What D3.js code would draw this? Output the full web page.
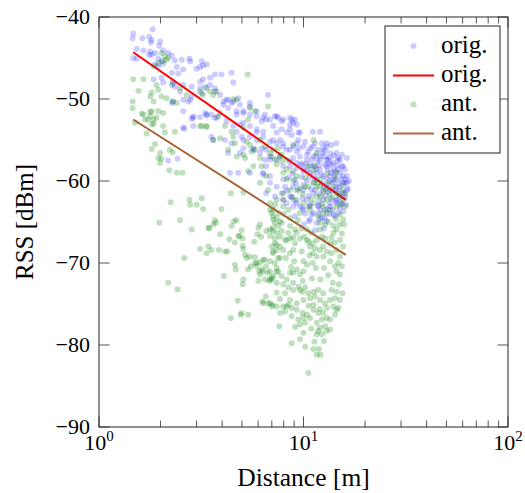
<!DOCTYPE html>
<html>
<head>
<meta charset="utf-8">
<script src="https://cdn.jsdelivr.net/npm/d3@7"></script>
<style>
  body { margin: 0; background: #fff; }
  svg text { font-family: "Liberation Serif", "DejaVu Serif", serif; fill: #000; }
</style>
</head>
<body>
<svg id="chart" width="525" height="493"></svg>
<script>
// distance [m], RSS [dBm]
const origPoints = [
  [1.83,-41.5],[1.47,-42.0],[1.46,-42.6],[1.63,-42.6],[1.76,-42.4],[1.81,-42.8],[1.79,-43.1],[1.99,-43.0],[1.97,-43.5],
  [1.53,-43.9],[1.65,-44.1],[1.78,-44.2],[1.81,-44.6],[1.88,-44.4],[1.76,-44.6],[2.06,-44.1],[2.18,-44.4],[2.27,-44.7],
  [1.47,-45.0],[1.53,-45.1],[1.95,-45.1],[2.02,-45.4],[2.06,-45.7],[1.88,-45.8],[1.95,-46.0],[2.35,-45.3],[2.54,-45.2],
  [2.77,-45.1],[2.79,-45.4],[2.40,-46.1],[2.58,-46.4],[2.27,-46.8],[2.44,-46.9],[3.00,-46.3],[3.12,-46.1],[3.36,-45.8],
  [1.85,-47.6],[2.02,-47.4],[2.06,-48.0],[2.30,-48.1],[2.35,-48.5],[3.12,-47.9],[3.23,-47.6],[3.49,-47.4],[2.49,-49.1],
  [2.58,-50.1],[2.73,-50.3],[2.84,-49.7],[2.89,-52.1],[2.84,-52.4],[3.12,-52.2],[3.36,-52.0],[2.58,-53.5],[2.89,-53.3],
  [2.18,-57.5],[2.42,-57.3],[2.61,-53.6],
  [3.69,-47.0],[3.97,-47.0],[4.45,-46.8],[4.54,-48.0],[3.49,-48.3],[3.69,-48.7],[3.18,-49.3],[3.23,-45.9],[6.71,-49.5],
  [6.57,-52.5],[4.06,-50.3],[4.28,-50.1],[4.45,-50.5],[4.89,-50.7],[5.47,-50.5],[5.08,-51.5],[4.71,-51.9],[3.30,-51.7],
  [3.55,-51.9],[3.91,-51.7],[3.76,-52.3],[5.90,-52.1],[6.24,-52.7],[7.52,-52.3],[7.96,-52.5],[8.59,-52.3],[8.90,-52.9],
  [7.82,-53.7],[8.28,-54.1],[7.39,-54.1],[7.10,-55.0],[6.86,-55.2],[7.67,-55.0],[6.35,-54.0],[5.90,-53.7],[5.47,-53.3],
  [4.89,-53.1],[4.54,-53.3],[4.20,-52.7],[4.71,-54.0],[4.98,-54.6],[5.47,-54.6],[5.90,-55.0],[5.69,-56.0],[6.24,-56.0],
  [6.57,-56.2],[6.48,-57.4],[6.86,-57.4],[7.67,-57.0],[8.28,-56.2],[8.90,-55.8],[8.90,-57.2],[9.26,-55.4],[9.44,-54.1],
  [3.62,-55.0],[3.55,-54.6],[4.13,-55.0],[4.45,-55.4],[5.08,-56.0],[6.57,-58.2],[7.96,-58.2],
  [3.18,-45.4],[7.39,-52.1],[7.82,-52.7],[8.75,-52.5],[9.26,-53.1],[6.35,-52.3],[6.86,-52.5],[5.90,-51.5],[5.47,-51.9],
  [5.08,-51.7],[4.28,-51.1],[4.71,-51.5],[3.69,-49.1],[3.91,-49.5],[4.20,-50.1],[4.54,-50.3],[4.80,-49.9],[3.30,-48.5],
  [3.12,-48.7],[2.84,-48.5],[2.58,-48.3],[2.30,-47.9],[2.79,-50.1],[2.58,-51.5],[2.89,-52.3],[3.36,-51.9],[3.69,-52.3],
  [4.06,-50.7],[2.30,-50.3],[2.27,-50.5],
  [4.37,-59.0],[4.80,-59.0],[5.47,-59.0],[4.28,-56.6],[4.89,-56.6],[6.35,-59.2],[6.86,-60.2],[7.39,-60.7],[7.82,-61.5],
  [8.59,-61.9],[9.26,-62.7],[9.89,-63.3],[6.57,-61.5],[7.25,-61.9],[7.96,-62.3],
  [5.47,-50.9],[6.48,-51.9],[7.25,-52.1],[7.10,-53.3],[8.59,-53.7],[9.61,-54.1],[11.1,-54.0],[12.04,-54.0],[11.38,-55.4],
  [12.3,-55.4],[12.98,-55.8],[13.48,-56.6],[14.5,-56.6],[15.08,-57.4],[15.6,-58.2],[15.08,-59.0],[14.0,-58.6],[12.98,-58.2],
  [12.04,-57.4],[11.2,-57.0],[10.4,-56.8],[9.26,-56.4],[8.59,-56.2],[7.96,-55.8],[7.39,-55.4],[6.35,-54.6],[5.90,-54.1],
  [5.08,-52.9],[5.08,-55.0],[5.69,-56.2],[6.13,-56.6],[6.86,-57.0],[7.39,-57.4],[8.59,-57.6],[9.26,-57.8],[10.0,-58.6],
  [10.76,-59.0],[11.6,-59.0],[12.5,-59.4],[13.48,-60.0],[14.5,-60.7],[15.6,-61.5],[12.5,-61.1],[11.2,-60.2],[10.0,-60.5],
  [8.90,-60.7],[7.96,-59.8],[6.86,-59.4],[6.35,-59.0],[10.4,-62.3],[10.76,-63.1],[11.2,-63.9],[10.0,-63.5],[15.6,-59.4],
  [16.3,-60.2],[15.08,-61.9],[12.74,-57.0],[13.2,-57.4],[13.7,-58.0],[14.26,-58.8],
  [9.09,-52.5],[8.59,-53.1],[8.75,-54.4],[12.98,-55.4],[12.5,-56.0],[14.8,-57.2],[14.0,-57.8],[12.98,-57.4],[10.4,-57.4],
  [9.61,-57.0],[7.96,-55.4],[11.2,-58.2],[12.04,-58.6],[16.3,-59.4],[15.6,-60.2],[14.5,-59.8],[13.48,-59.4],[11.6,-59.8],
  [10.76,-59.4],[10.0,-58.8],[9.26,-58.4],[8.59,-58.2],[8.12,-60.7],[8.75,-61.9],[10.0,-61.1],[11.2,-61.5],[12.5,-62.3],
  [13.48,-62.7],[14.5,-62.3],[16.3,-61.1],[16.7,-60.0],[15.96,-58.6],[15.4,-56.8],[16.3,-57.2],[14.5,-55.4],[13.7,-55.6],
  [11.8,-56.2],[11.1,-55.8],[10.17,-55.2],[9.44,-55.0],[10.56,-56.4],[9.89,-58.0],[9.09,-59.8],[8.43,-59.6],[12.04,-63.5],
  [9.61,-63.1],[8.28,-62.7],[14.26,-64.3],[12.74,-64.5],
  [11.5,-58.5],[12.2,-59.2],[13.0,-60.5],[13.8,-61.2],[12.8,-61.8],[11.9,-62.5],[10.9,-61.0],[11.7,-57.6],[12.4,-56.6],
  [13.3,-57.9],[14.2,-59.3],[14.9,-60.3],[15.5,-62.8],[13.1,-63.4],[12.0,-64.6],[10.6,-64.9],[11.4,-66.0],[12.6,-65.8],
  [9.8,-59.5],[10.3,-57.9],[11.0,-57.4],[12.7,-58.0],[13.6,-59.0],[14.6,-58.1],[15.3,-59.7],[15.8,-61.4],[14.4,-62.4],
  [13.4,-64.0],[11.8,-63.0],[10.4,-60.0],
  [8.90,-63.1],[10.76,-62.9],[11.8,-63.1],[12.74,-63.5],[13.48,-63.1],[14.5,-62.7],[9.09,-64.3],[10.0,-65.3],[10.76,-64.7],
  [11.6,-65.1],[12.3,-64.5],[14.0,-64.1],[15.08,-63.3],
  [9.5,-56.0],[10.0,-55.8],[10.8,-56.0],[11.5,-56.9],[12.1,-57.0],[12.7,-56.3],[13.5,-57.2],[14.1,-56.9],[14.8,-58.6],
  [15.4,-58.2],[16.0,-59.8],[16.5,-60.9],[16.0,-62.0],[15.2,-62.6],[14.7,-61.4],[13.9,-60.2],[13.2,-61.3],[12.3,-60.3],
  [11.4,-61.1],[10.6,-61.8],[9.9,-62.1],[9.4,-61.0],[9.0,-62.4],[10.2,-64.0],[11.0,-64.1],[11.9,-64.0],[12.9,-64.9],
  [13.9,-63.5],[14.8,-63.9],[15.7,-63.7],[16.2,-62.9],[12.0,-61.6],[12.6,-60.7],[13.3,-60.9],[14.0,-59.9],[11.3,-59.6],
  [10.5,-58.6],[9.7,-57.9],[8.8,-59.1],[8.3,-61.2],[9.2,-60.3],[13.6,-62.2],[14.3,-61.0],[15.0,-60.8],[15.9,-60.2],
  [12.9,-59.7],[11.9,-58.1],[10.9,-58.1],[13.1,-58.6],[14.7,-57.5]
];

const antPoints = [
  [2.02,-44.4],[2.10,-44.8],[2.14,-45.2],[2.18,-45.0],[1.85,-46.0],[1.95,-45.6],[2.06,-45.4],[1.47,-47.6],[1.65,-47.6],
  [1.56,-49.0],[1.91,-48.3],[1.95,-48.9],[1.81,-49.2],[1.78,-49.7],[2.02,-49.7],[2.14,-49.9],[2.30,-50.3],[2.40,-50.5],
  [1.46,-50.3],[1.46,-51.1],[1.85,-50.3],[1.65,-51.9],[1.81,-51.5],[1.78,-52.1],[1.85,-52.5],[1.74,-52.5],[1.95,-51.5],
  [2.06,-51.7],[1.91,-52.3],[2.27,-48.3],[2.49,-48.7],[3.36,-48.7],[3.49,-49.1],[3.23,-49.5],[2.68,-49.5],[3.12,-49.1],
  [1.62,-51.8],[1.78,-51.6],[1.68,-52.5],[1.85,-53.0],[1.81,-53.1],[2.06,-53.3],[2.10,-54.1],[2.35,-54.0],[1.71,-54.2],
  [1.50,-52.9],[1.88,-55.5],[1.81,-56.1],[1.99,-56.6],[1.95,-57.2],[2.02,-57.3],[1.99,-57.8],[2.22,-56.2],[2.29,-56.5],
  [2.21,-58.7],[2.40,-59.0],[2.56,-59.0],[3.12,-53.3],[3.34,-53.4],[2.24,-62.6],[2.77,-62.3],[2.79,-62.9],[3.00,-62.9],
  [3.18,-62.1],[3.23,-63.4],[1.97,-65.1],[2.49,-64.8],[2.84,-65.9],[3.43,-65.7],[3.12,-68.3],[3.36,-68.8],[3.43,-68.0],
  [2.61,-69.4],
  [2.18,-72.4],[2.42,-73.2],[3.46,-65.8],[3.69,-64.8],[3.73,-65.1],[3.91,-66.5],[3.97,-63.4],[3.55,-68.4],[3.86,-68.4],
  [4.13,-68.6],[4.24,-68.6],[4.08,-71.6],[5.08,-61.4],[4.41,-61.5],[4.34,-67.1],[4.62,-67.5],[4.80,-66.7],[5.04,-67.0],
  [4.57,-64.9],[4.70,-64.8],[4.98,-66.0],[5.04,-67.9],[4.62,-70.2],[4.66,-70.8],[5.08,-68.3],[5.18,-69.0],[5.27,-69.4],
  [5.47,-69.2],[5.79,-69.3],[5.04,-72.6],[4.77,-74.6],[4.41,-76.7],[4.93,-76.3],[5.36,-76.3],
  [3.62,-65.3],[4.45,-65.5],[4.87,-66.7],[5.53,-70.4],[5.36,-70.8],[6.13,-65.3],[6.02,-65.7],[5.95,-66.5],[5.74,-67.4],
  [6.20,-66.8],[6.57,-66.1],[6.86,-65.9],[6.13,-69.9],[6.48,-69.6],[6.86,-69.8],[7.25,-70.0],[7.52,-69.4],[6.24,-70.8],
  [6.07,-71.0],[6.35,-71.0],[6.80,-72.2],[6.99,-72.0],[6.67,-71.2],[7.39,-71.1],[6.54,-74.1],[6.30,-74.7],[6.71,-74.9],
  [7.06,-75.1],[7.67,-74.4],[7.61,-77.7],[7.0,-68.0],[7.25,-67.6],[7.39,-68.4],[7.67,-68.0],[7.10,-68.8],[7.10,-64.7],
  [7.39,-64.5],[7.25,-65.1],[7.06,-66.1],[6.86,-66.7],[7.25,-67.0],[6.86,-63.5],[7.25,-62.9],[7.54,-63.9],
  [6.99,-63.9],[7.67,-64.9],[7.52,-65.5],[7.10,-65.7],[7.82,-66.1],[8.43,-66.3],[8.12,-67.2],[8.59,-67.0],[9.09,-67.6],
  [9.61,-67.0],[8.90,-68.4],[8.59,-68.8],[7.96,-68.4],[7.39,-67.8],[7.10,-68.6],[7.67,-69.4],[10.56,-67.4],[10.76,-68.0],
  [11.38,-68.2],[12.04,-68.4],[12.98,-68.6],[12.5,-69.2],[11.6,-69.2],[11.1,-68.8],[13.48,-69.8],[14.26,-70.4],[14.8,-70.0],
  [15.4,-70.4],[14.5,-71.0],[15.08,-71.4],[10.0,-69.8],[10.4,-70.2],[11.1,-70.0],[9.26,-70.8],[8.90,-71.2],[9.61,-71.4],
  [10.0,-71.0],[7.52,-71.0],[7.10,-71.6],[7.82,-71.6],[8.28,-72.0],[7.96,-72.6],[8.43,-73.0],[8.90,-72.4],[9.44,-72.9],
  [7.39,-73.6],[8.12,-73.7],[9.89,-73.5],[10.17,-73.0],[10.56,-73.7],[11.2,-73.5],[11.38,-74.1],[10.76,-74.3],[10.0,-74.5],
  [11.8,-73.3],[12.5,-73.7],[12.04,-74.5],[12.74,-74.9],[11.2,-75.1],[13.7,-73.3],[14.5,-73.5],[14.26,-74.3],[13.48,-74.5],
  [15.08,-74.5],[14.8,-75.5],[14.0,-75.3],[7.96,-75.3],[8.43,-75.1],[8.75,-75.5],[8.12,-75.9],[7.39,-75.3],[6.99,-75.3],
  [9.26,-75.7],[9.89,-76.1],[10.4,-76.3],[10.0,-76.7],[10.76,-76.7],[9.61,-77.5],[10.17,-77.3],[11.2,-75.7],[11.8,-76.1],
  [12.5,-76.1],[12.98,-76.7],[12.3,-76.9],[11.6,-77.3],[12.04,-77.9],[12.74,-77.7],[13.48,-76.9],[14.26,-76.3],[14.5,-75.7],
  [11.8,-78.3],[12.3,-78.7],[12.98,-78.3],[13.48,-78.1],[11.6,-78.7],[8.75,-79.8],[10.0,-78.5],[9.61,-79.3],
  [11.2,-80.5],[11.9,-80.5],[11.6,-81.2],[12.1,-81.2],[10.56,-83.4],
  [7.10,-63.5],[7.82,-65.1],[7.39,-66.3],[7.67,-66.8],[8.28,-67.2],[9.09,-65.9],[9.26,-66.3],[10.4,-67.2],[11.1,-67.6],
  [12.04,-65.9],[12.3,-66.8],[12.74,-65.3],[12.5,-68.0],[13.48,-67.6],[14.0,-66.3],[14.5,-65.9],[15.08,-67.2],[14.5,-68.4],
  [15.08,-69.2],[15.6,-68.0],[5.79,-70.0],[5.90,-70.4],[6.02,-72.2],[5.08,-72.0],[4.98,-76.1],[6.13,-71.4],[6.48,-72.0],
  [6.86,-71.0],[6.99,-71.8],
  [5.33,-47.0],[4.71,-50.1],[4.54,-50.0],[5.47,-51.1],[5.79,-51.5],[6.71,-50.9],[3.76,-49.1],[3.62,-49.5],[3.83,-52.1],
  [4.13,-53.3],[4.54,-54.6],[4.45,-54.0],[3.91,-54.8],[3.62,-55.0],[4.62,-55.4],[5.28,-55.2],[5.57,-56.4],[5.79,-56.2],
  [6.13,-57.2],[6.86,-56.6],[7.52,-56.0],[7.25,-57.4],[7.82,-56.8],[8.28,-57.4],[3.36,-53.3],[3.18,-53.3],[4.71,-57.0],
  [5.08,-56.8],[4.28,-56.2],
  [8.90,-55.6],[11.2,-55.0],[11.6,-56.6],[7.82,-57.6],[7.96,-59.0],[8.28,-59.8],[8.90,-60.0],[9.61,-60.9],[10.17,-60.7],
  [9.26,-62.3],[10.0,-62.7],[11.2,-60.2],[12.04,-60.7],[12.5,-61.3],[11.6,-61.9],[12.98,-62.3],[14.0,-60.7],[14.5,-61.5],
  [15.4,-61.1],[15.6,-62.3],[13.48,-63.5],[14.5,-63.1],[12.5,-63.9],[15.96,-63.1],[15.08,-64.1],[7.96,-62.3],[8.43,-63.5],
  [9.61,-63.9],
  [5.36,-52.5],[5.08,-53.5],[5.47,-55.6],[6.13,-55.0],[6.48,-55.8],[7.10,-56.2],[6.99,-57.0],[7.67,-57.0],[7.39,-58.0],
  [8.28,-58.6],[8.90,-58.8],[9.26,-59.4],[10.56,-58.2],[11.38,-58.2],[12.04,-59.8],[13.2,-60.2],[14.26,-59.6],[11.6,-60.7],
  [10.56,-60.7],[8.59,-61.1],[7.96,-61.5],[7.39,-62.3],[6.86,-62.7],[7.96,-63.1],[10.76,-63.5],[12.5,-63.1],[12.98,-63.9],
  [7.10,-64.3],[8.59,-65.5],[10.4,-65.9],[12.04,-65.1],[14.0,-65.5],[15.6,-64.7],[5.18,-57.2],[5.69,-58.2],[6.24,-58.2],
  [6.57,-59.4],[5.36,-58.8],[6.13,-60.2],[6.71,-61.1],
  [5.90,-70.0],[6.35,-69.6],[6.57,-70.4],[7.39,-70.6],[6.86,-72.0],[7.39,-72.4],[8.59,-71.2],[8.90,-73.3],[9.61,-73.3],
  [8.59,-74.5],[9.26,-74.9],[6.86,-74.9],[6.35,-74.9],[7.67,-76.1],[8.28,-75.3],[8.75,-76.5],[9.44,-76.9],
  [11.7,-60.2],[12.9,-61.0],[13.8,-62.0],[10.9,-62.2],[12.3,-62.8],[14.9,-61.8],[15.6,-60.5],[11.2,-58.8],[13.1,-59.1],
  [14.5,-59.0],[10.2,-59.6],[9.3,-61.2],
  [8.0,-64.0],[8.6,-64.5],[9.4,-64.8],[10.1,-66.8],[10.9,-66.3],[11.6,-67.2],[12.8,-67.0],[13.7,-68.8],[14.2,-67.5],
  [15.4,-66.4],[15.8,-65.3],[13.3,-65.0],[11.8,-64.3],[10.6,-63.1],[9.8,-65.8],[8.9,-66.9],[8.2,-69.4],[9.0,-69.8],
  [9.8,-68.6],[10.7,-69.1],[11.5,-70.6],[12.6,-70.6],[13.2,-71.5],[12.1,-72.0],[11.0,-71.9],[9.9,-72.2],[8.7,-70.5],
  [13.9,-72.4],[14.9,-72.6],[15.5,-73.7],[13.0,-75.5],[12.0,-75.6],[10.6,-75.2],[9.1,-77.8],[10.9,-78.0],[11.3,-79.6],
  [12.6,-79.5],[10.2,-80.2],[13.7,-66.9],[15.0,-65.3],[14.4,-64.6],[12.1,-61.9],[13.4,-61.6],[15.2,-62.9],[11.2,-62.7],
  [9.9,-61.6],[8.8,-62.0],[16.0,-61.6]
];

// fitted lines (end points)
const fitDist = [1.47, 16.1];
const origFit = [-44.3, -62.3];
const antFit = [-52.5, -69.0];

const yTicks = [-90, -80, -70, -60, -50, -40];
const xTicks = [1, 10, 100];
const xTickExp = ["0", "1", "2"];

const legendItems = [
  { label: "orig.", type: "dot", color: "#0000ff", op: 0.2 },
  { label: "orig.", type: "line", color: "#ff0000" },
  { label: "ant.", type: "dot", color: "#008000", op: 0.25 },
  { label: "ant.", type: "line", color: "#b06a3c" }
];

const svg = d3.select("#chart");
const pL = 99, pR = 508, pT = 17, pB = 427;

const x = d3.scaleLog().domain([1, 100]).range([pL, pR]);
const y = d3.scaleLinear().domain([-90, -40]).range([pB, pT]);

const minor = [];
[1, 10].forEach(dec => { for (let k = 2; k <= 9; k++) minor.push(dec * k); });

const grid = svg.append("g");
// ticks on all four sides, pointing inwards
xTicks.forEach(t => {
  grid.append("line").attr("x1", x(t)).attr("x2", x(t)).attr("y1", pB).attr("y2", pB - 10.5);
  grid.append("line").attr("x1", x(t)).attr("x2", x(t)).attr("y1", pT).attr("y2", pT + 10.5);
});
minor.forEach(t => {
  grid.append("line").attr("x1", x(t)).attr("x2", x(t)).attr("y1", pB).attr("y2", pB - 6.5);
  grid.append("line").attr("x1", x(t)).attr("x2", x(t)).attr("y1", pT).attr("y2", pT + 6.5);
});
yTicks.forEach(t => {
  grid.append("line").attr("x1", pL).attr("x2", pL + 10.5).attr("y1", y(t)).attr("y2", y(t));
  grid.append("line").attr("x1", pR).attr("x2", pR - 10.5).attr("y1", y(t)).attr("y2", y(t));
});
grid.selectAll("line").attr("stroke", "#555").attr("stroke-width", 1);

const plot = svg.append("g");

plot.selectAll("circle.orig")
  .data(origPoints)
  .enter().append("circle")
    .attr("class", "orig")
    .attr("cx", d => x(d[0]))
    .attr("cy", d => y(d[1]))
    .attr("r", 3)
    .attr("fill", "#0000ff")
    .attr("fill-opacity", 0.2);

const line = d3.line().x(d => x(d[0])).y(d => y(d[1]));

plot.append("path")
  .attr("d", line(fitDist.map((d, i) => [d, origFit[i]])))
  .attr("stroke", "#ff0000").attr("stroke-width", 2).attr("fill", "none");

plot.selectAll("circle.ant")
  .data(antPoints)
  .enter().append("circle")
    .attr("class", "ant")
    .attr("cx", d => x(d[0]))
    .attr("cy", d => y(d[1]))
    .attr("r", 3)
    .attr("fill", "#008000")
    .attr("fill-opacity", 0.25);

plot.append("path")
  .attr("d", line(fitDist.map((d, i) => [d, antFit[i]])))
  .attr("stroke", "#a65f2f").attr("stroke-width", 2).attr("fill", "none");

// frame
svg.append("rect")
  .attr("x", pL).attr("y", pT)
  .attr("width", pR - pL).attr("height", pB - pT)
  .attr("fill", "none").attr("stroke", "#222").attr("stroke-width", 1);

// tick labels
svg.selectAll("text.ytick")
  .data(yTicks)
  .enter().append("text")
    .attr("class", "ytick")
    .attr("x", 90)
    .attr("y", d => y(d) + 6.5)
    .attr("text-anchor", "end")
    .attr("font-size", 22)
    .text(d => "\u2212" + Math.abs(d));

xTicks.forEach((t, i) => {
  const txt = svg.append("text")
    .attr("x", x(t))
    .attr("y", 450)
    .attr("text-anchor", "middle")
    .attr("font-size", 22);
  txt.append("tspan").text("10");
  txt.append("tspan").attr("dy", -9).attr("font-size", 15).text(xTickExp[i]);
});

// axis labels
svg.append("text")
  .attr("x", (pL + pR) / 2)
  .attr("y", 486)
  .attr("text-anchor", "middle")
  .attr("font-size", 25.5)
  .text("Distance [m]");

svg.append("text")
  .attr("transform", `translate(33, ${(pT + pB) / 2}) rotate(-90)`)
  .attr("text-anchor", "middle")
  .attr("font-size", 25)
  .text("RSS [dBm]");

// legend
const lg = svg.append("g");
lg.append("rect")
  .attr("x", 385).attr("y", 26).attr("width", 115).attr("height", 127)
  .attr("fill", "#fff").attr("stroke", "#222").attr("stroke-width", 1);

const rowY = [46, 75.5, 104.5, 133.5];
legendItems.forEach((d, i) => {
  if (d.type === "dot") {
    lg.append("circle").attr("cx", 413.5).attr("cy", rowY[i]).attr("r", 3)
      .attr("fill", d.color).attr("fill-opacity", d.op);
  } else {
    lg.append("line").attr("x1", 393).attr("x2", 434).attr("y1", rowY[i]).attr("y2", rowY[i])
      .attr("stroke", d.color).attr("stroke-width", 2);
  }
  lg.append("text").attr("x", 441).attr("y", rowY[i] + 6.5)
    .attr("font-size", 25).text(d.label);
});
</script>
</body>
</html>
